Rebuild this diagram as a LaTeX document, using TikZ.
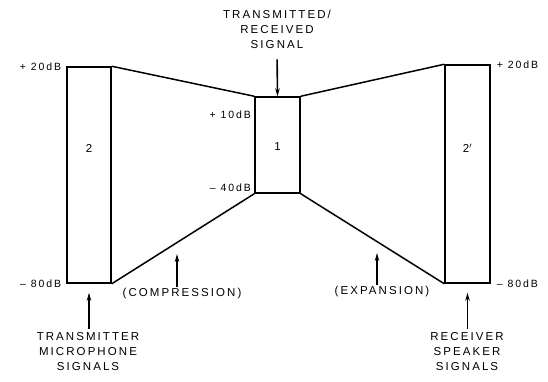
\documentclass[tikz,border=0pt]{standalone}
\usepackage{fontspec}
\setmainfont{Liberation Sans}[LetterSpace=18]
\usetikzlibrary{positioning,arrows.meta}

\begin{document}
\begin{tikzpicture}[
  x=1pt, y=-1pt,
  font=\fontsize{11.5}{15}\selectfont,
  band/.style={draw, line width=1.5pt, minimum width=44pt, inner sep=0pt},
  edge/.style={line width=1.5pt},
  lbl/.style={align=center, inner sep=1pt},
  db/.style={font=\fontsize{10.5}{12}\selectfont, inner sep=1pt},
  arr/.style={-{Stealth[length=8pt,width=4.5pt]}, line width=1.6pt}
]
\useasboundingbox (0,0) rectangle (548,381);

% level ranges
\node[band, minimum height=216pt, label={[yshift=27pt]center:2}] (tx) at (89,175) {};
\node[band, minimum height=96pt, minimum width=45pt, label={[yshift=-2pt]center:1}] (ch) at (277.5,145) {};
\node[band, minimum height=218pt, minimum width=45pt, label={[yshift=26pt]center:2$'$}] (rx) at (467.5,174) {};

\draw[edge] (tx.north east) -- (ch.north west);
\draw[edge] (tx.south east) -- (ch.south west);
\draw[edge] (ch.north east) -- (rx.north west);
\draw[edge] (ch.south east) -- (rx.south west);

% levels
\node[db, left=4pt of tx.north west] (txhi) {+ 20dB};
\node[db, left=4pt of tx.south west] (txlo) {– 80dB};
\node[db, anchor=east] (chhi) at (252,115) {+ 10dB};
\node[db, anchor=east] (chlo) at (252,188) {– 40dB};
\node[db, right=5pt of rx.north east] (rxhi) {+ 20dB};
\node[db, right=5pt of rx.south east] (rxlo) {– 80dB};

% captions
\node[lbl] (sig) at (277,29) {TRANSMITTED/\\RECEIVED\\SIGNAL};
\node[lbl] (mic) at (88,352) {TRANSMITTER\\MICROPHONE\\SIGNALS};
\node[lbl] (spk) at (467,352) {RECEIVER\\SPEAKER\\SIGNALS};
\node[lbl] (comp) at (182,294) {(COMPRESSION)};
\node[lbl] (expn) at (382,292) {(EXPANSION)};
\coordinate (compend) at (177,254);
\coordinate (expnend) at (377,253);

\draw[arr, shorten <=10pt] (sig.south) -- (ch.north);
\draw[arr, shorten <=3pt, shorten >=9pt] (mic.north -| tx.south) -- (tx.south);
\draw[arr, shorten <=3pt, shorten >=9pt] (spk.north -| rx.south) -- (rx.south);
\draw[arr] (comp.north -| compend) -- (compend);
\draw[arr] (expn.north -| expnend) -- (expnend);
\end{tikzpicture}
\end{document}
